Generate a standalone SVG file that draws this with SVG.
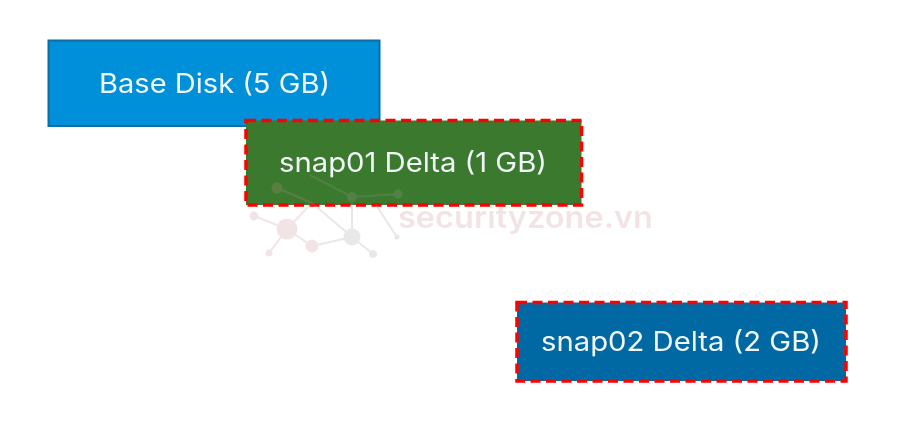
<svg xmlns="http://www.w3.org/2000/svg" width="902" height="430" viewBox="0 0 902 430">
<style>
.t{font-family:"Inter","Liberation Sans",sans-serif;font-size:27px;fill:#f1f6f8}
.d{stroke:#f00;stroke-width:3.500;stroke-dasharray:10 5.500}
.p{fill:#c98a8a}
.g{fill:#a09a9a}
</style>
<defs><filter id="s" x="-5%" y="-5%" width="110%" height="110%"><feGaussianBlur stdDeviation="0.6"/></filter></defs>
<rect width="902" height="430" fill="#fff"/>
<g id="base-disk" filter="url(#s)">
<rect x="48.500" y="40.500" width="331" height="85.500" fill="#0090d9" stroke="#0a6ea6" stroke-width="2"/>
<text class="t" x="99" y="93" textLength="231" lengthAdjust="spacingAndGlyphs">Base Disk (5 GB)</text>
</g>
<g id="snap01-delta" filter="url(#s)">
<rect class="d" x="246" y="120.500" width="335.500" height="84.500" fill="#3b7a2e"/>
<text class="t" x="279" y="172" textLength="268" lengthAdjust="spacingAndGlyphs">snap01 Delta (1 GB)</text>
</g>
<g id="snap02-delta" filter="url(#s)">
<rect class="d" x="517" y="302.500" width="329" height="78.500" fill="#0069a3"/>
<text class="t" x="541" y="351" textLength="280" lengthAdjust="spacingAndGlyphs">snap02 Delta (2 GB)</text>
</g>
<g id="watermark" filter="url(#s)" opacity=".22">
<g stroke="#c98a8a" stroke-width="2" fill="none">
<path d="M254 216L287 229M277 188L312 203M287 229L312 246M287 229L269 253M287 229L312 203"/>
</g>
<g stroke="#9a9494" stroke-width="2" fill="none">
<path d="M312 246L352 237L373 254M352 237V197M310 175L352 197L398 194M312 203L352 237M376 205L397 237"/>
</g>
<circle class="p" cx="254" cy="216" r="4.500"/>
<circle class="p" cx="277" cy="188" r="5.500"/>
<circle class="p" cx="287" cy="229" r="10.500"/>
<circle class="p" cx="312" cy="246" r="6.500"/>
<circle class="p" cx="269" cy="253" r="3.500"/>
<circle class="g" cx="352" cy="237" r="8.500"/>
<circle class="g" cx="373" cy="254" r="4"/>
<circle class="g" cx="397" cy="237" r="2.500"/>
<circle class="g" cx="398" cy="194" r="4.500"/>
<circle class="g" cx="352" cy="197" r="5"/>
<text x="398" y="228" font-family="Inter,'Liberation Sans',sans-serif" font-size="31" font-weight="600" fill="#c98a8a" textLength="255" lengthAdjust="spacingAndGlyphs">securityzone.vn</text>
</g>
</svg>
